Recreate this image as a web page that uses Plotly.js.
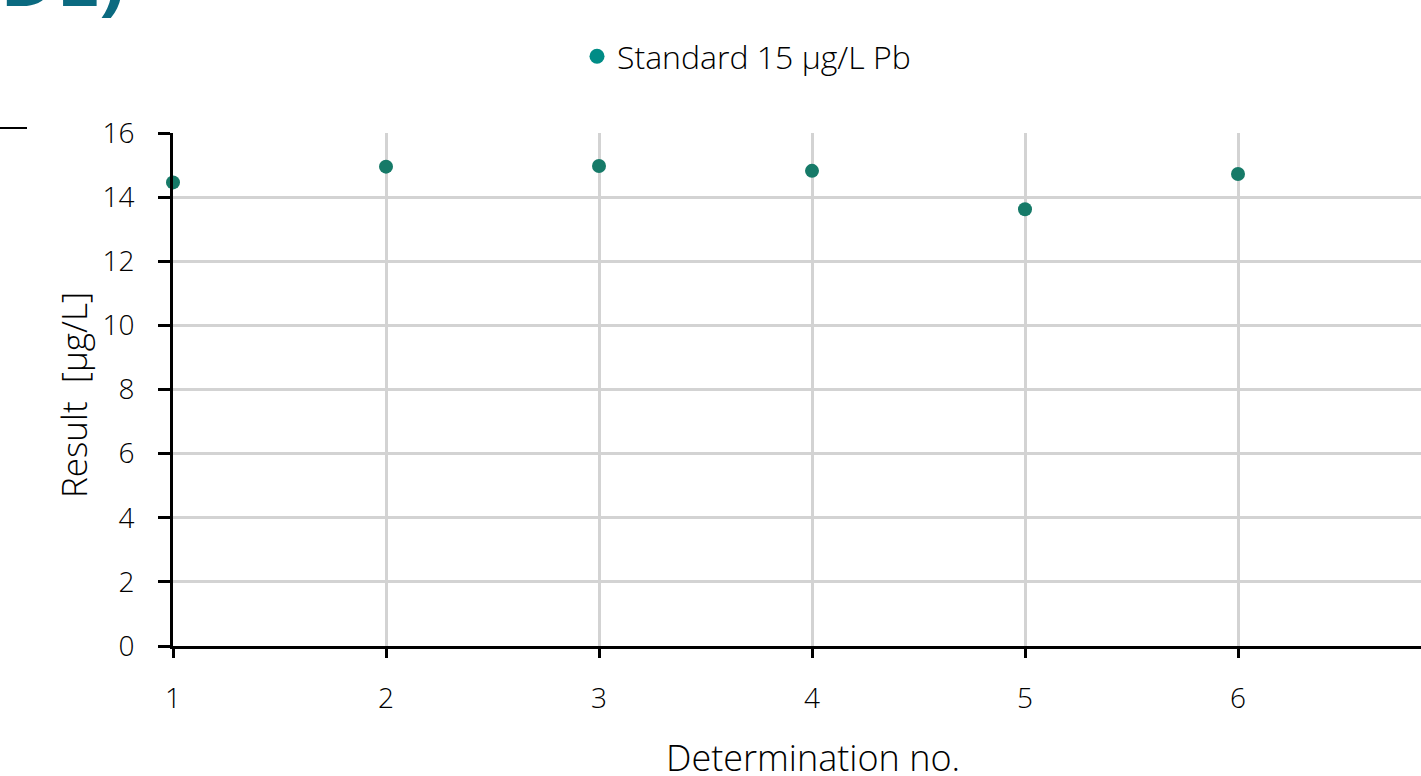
<!DOCTYPE html>
<html>
<head>
<meta charset="utf-8">
<script src="https://cdn.plot.ly/plotly-3.0.1.min.js"></script>
<style>html,body{margin:0;padding:0;background:#fff;}#chart{width:1421px;height:776px;}</style>
</head>
<body>
<div id="chart"></div>
<script>
const determinations = [1, 2, 3, 4, 5, 6];
const results = [14.46, 14.95, 14.97, 14.82, 13.62, 14.72];
const seriesName = 'Standard 15 µg/L Pb';
const yTicks = [0, 2, 4, 6, 8, 10, 12, 14, 16];
const xTicks = [1, 2, 3, 4, 5, 6];

const W = 1421, H = 776, ML = 173, MR = 0, MT = 133, MB = 130;
const pw = W - ML - MR, ph = H - MT - MB;
const px2paperX = p => (p - ML) / pw;
const py2paperY = p => (H - MB - p) / ph;

const font = 'Open Sans, Noto Sans, DejaVu Sans, sans-serif';

const traces = [
  {
    x: determinations, y: results, type: 'scatter', mode: 'markers',
    name: seriesName, showlegend: false, cliponaxis: false,
    marker: {color: '#167a68', size: 14, line: {width: 0}}
  },
  {
    x: [null], y: [null], type: 'scatter', mode: 'markers',
    name: seriesName, showlegend: true,
    marker: {color: '#008c86', size: 15}
  }
];

const layout = {
  width: W, height: H,
  margin: {l: ML, r: MR, t: MT, b: MB, pad: 0},
  paper_bgcolor: '#fff', plot_bgcolor: '#fff',
  font: {family: font, color: '#000', size: 28, weight: 300},
  showlegend: true,
  legend: {
    orientation: 'h', x: px2paperX(577), xanchor: 'left',
    y: py2paperY(29), yanchor: 'top',
    font: {size: 32, family: font, color: '#000', weight: 300},
    itemwidth: 30, bgcolor: 'rgba(0,0,0,0)'
  },
  xaxis: {
    range: [1, 1 + pw / 213], tickvals: xTicks, ticktext: xTicks.map(String),
    showgrid: true, gridcolor: '#d3d3d3', gridwidth: 3,
    showline: true, linecolor: '#000', linewidth: 3,
    ticks: 'outside', ticklen: 9, tickwidth: 3, tickcolor: '#000',
    ticklabelstandoff: 16,
    zeroline: false, tickfont: {size: 28, family: font, weight: 300}
  },
  yaxis: {
    range: [0, 16], tickvals: yTicks, ticktext: yTicks.map(String),
    showgrid: true, gridcolor: '#d3d3d3', gridwidth: 3,
    showline: true, linecolor: '#000', linewidth: 3,
    ticks: 'outside', ticklen: 12, tickwidth: 3, tickcolor: '#000',
    ticklabelstandoff: 18,
    zeroline: false, tickfont: {size: 28, family: font, weight: 300}
  },
  annotations: [
    {
      text: 'Determination no.', xref: 'paper', yref: 'paper',
      x: px2paperX(813), y: py2paperY(757), xanchor: 'center', yanchor: 'middle',
      showarrow: false, font: {size: 36, family: font, color: '#000', weight: 300}
    },
    {
      text: 'Result  [µg/L]', xref: 'paper', yref: 'paper', textangle: -90,
      x: px2paperX(73), y: py2paperY(395), xanchor: 'center', yanchor: 'middle',
      showarrow: false, font: {size: 35, family: font, color: '#000', weight: 300}
    },
    {
      text: '<b>DL)</b>', xref: 'paper', yref: 'paper',
      x: px2paperX(127), y: py2paperY(-77), xanchor: 'right', yanchor: 'top',
      showarrow: false, font: {size: 76, family: font, color: '#0b6a80'}
    }
  ],
  shapes: [
    {type: 'line', xref: 'paper', yref: 'paper',
     x0: px2paperX(0), x1: px2paperX(27), y0: py2paperY(128), y1: py2paperY(128),
     line: {color: '#000', width: 2}}
  ]
};

Plotly.newPlot('chart', traces, layout, {displayModeBar: false, staticPlot: true});
</script>
</body>
</html>
